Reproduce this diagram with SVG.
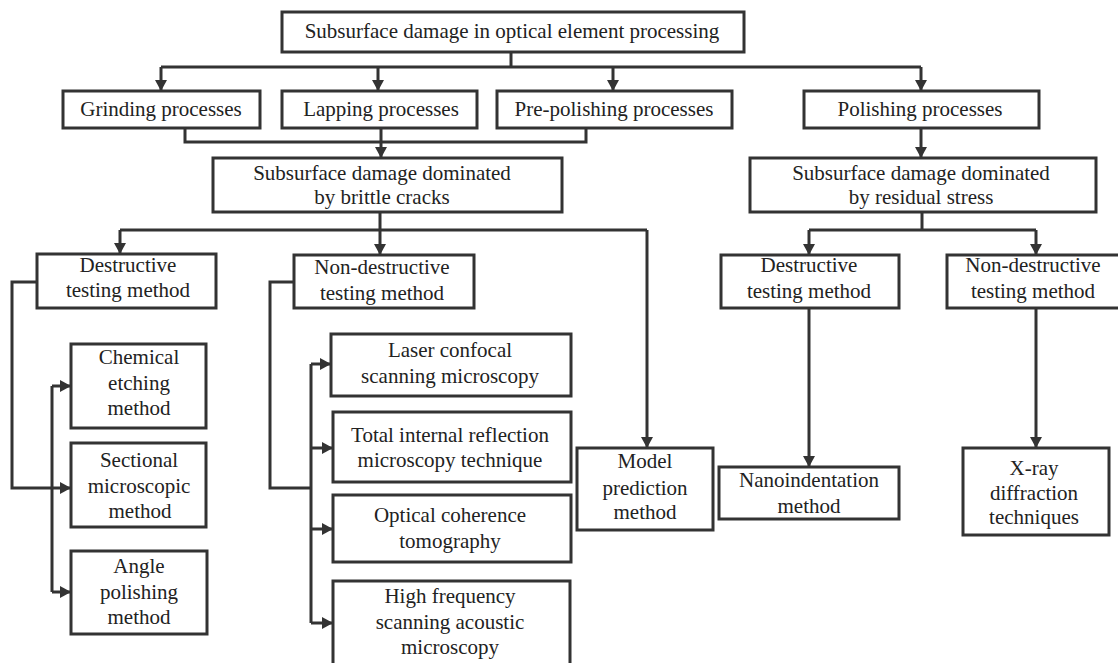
<svg xmlns="http://www.w3.org/2000/svg" width="1118" height="663" viewBox="0 0 1118 663">
<style>
.box{fill:#fff;stroke:#333;stroke-width:3}
.t{font-family:"Liberation Serif","Times New Roman",serif;font-size:21px;fill:#222;text-anchor:middle}
.c{fill:none;stroke:#333;stroke-width:3}
.a{fill:none;stroke:#333;stroke-width:3;marker-end:url(#ah)}
</style>
<defs>
<marker id="ah" markerUnits="userSpaceOnUse" markerWidth="14" markerHeight="14" viewBox="0 0 14 14" refX="12" refY="7" orient="auto">
<path d="M1,1 L12,7 L1,13 Z" fill="#333"/>
</marker>
</defs>
<rect width="1118" height="663" fill="#fff"/>
<g id="connectors">
<polyline class="c" points="511,52 511,67"/>
<polyline class="c" points="161,67 921,67"/>
<polyline class="a" points="161,67 161,91"/>
<polyline class="a" points="378,67 378,91"/>
<polyline class="a" points="613,67 613,91"/>
<polyline class="a" points="921,67 921,91"/>
<polyline class="c" points="185,128 185,142 586,142 586,128"/>
<polyline class="a" points="381,128 381,158"/>
<polyline class="a" points="921,128 921,158"/>
<polyline class="c" points="380,212 380,230"/>
<polyline class="c" points="120,230 647,230"/>
<polyline class="a" points="120,230 120,254"/>
<polyline class="a" points="380,230 380,255"/>
<polyline class="a" points="647,230 647,448"/>
<polyline class="c" points="922,212 922,230"/>
<polyline class="c" points="809,230 1036,230"/>
<polyline class="a" points="809,230 809,255"/>
<polyline class="a" points="1036,230 1036,255"/>
<polyline class="a" points="809,308 809,467"/>
<polyline class="a" points="1036,308 1036,448"/>
<polyline class="c" points="37,282 12,282 12,488 52,488"/>
<polyline class="c" points="52,386 52,592"/>
<polyline class="a" points="52,386 71,386"/>
<polyline class="a" points="52,488 71,488"/>
<polyline class="a" points="52,592 71,592"/>
<polyline class="c" points="294,282 270,282 270,488 311,488"/>
<polyline class="c" points="311,364 311,623"/>
<polyline class="a" points="311,364 331,364"/>
<polyline class="a" points="311,448 333,448"/>
<polyline class="a" points="311,529 333,529"/>
<polyline class="a" points="311,623 333,623"/>
</g>
<g id="n-root"><rect class="box" x="282" y="12" width="462" height="40"/><text class="t" x="512" y="38">Subsurface damage in optical element processing</text></g>
<g id="n-grinding"><rect class="box" x="63" y="91" width="197" height="37"/><text class="t" x="161" y="116">Grinding processes</text></g>
<g id="n-lapping"><rect class="box" x="282" y="91" width="195" height="37"/><text class="t" x="381" y="116">Lapping processes</text></g>
<g id="n-prepolishing"><rect class="box" x="497" y="91" width="235" height="37"/><text class="t" x="614" y="116">Pre-polishing processes</text></g>
<g id="n-polishing"><rect class="box" x="804" y="91" width="235" height="37"/><text class="t" x="920" y="116">Polishing processes</text></g>
<g id="n-brittle"><rect class="box" x="213" y="158" width="349" height="54"/><text class="t" x="382" y="180">Subsurface damage dominated</text><text class="t" x="382" y="204">by brittle cracks</text></g>
<g id="n-residual"><rect class="box" x="750" y="158" width="346" height="54"/><text class="t" x="921" y="180">Subsurface damage dominated</text><text class="t" x="921" y="204">by residual stress</text></g>
<g id="n-destr-l"><rect class="box" x="37" y="254" width="179" height="54"/><text class="t" x="128" y="272">Destructive</text><text class="t" x="128" y="297">testing method</text></g>
<g id="n-nondestr-m"><rect class="box" x="294" y="255" width="180" height="53"/><text class="t" x="382" y="274">Non-destructive</text><text class="t" x="382" y="300">testing method</text></g>
<g id="n-destr-r"><rect class="box" x="721" y="255" width="178" height="53"/><text class="t" x="809" y="272">Destructive</text><text class="t" x="809" y="298">testing method</text></g>
<g id="n-nondestr-r"><rect class="box" x="947" y="255" width="180" height="53"/><text class="t" x="1033" y="272">Non-destructive</text><text class="t" x="1033" y="298">testing method</text></g>
<g id="n-chemical"><rect class="box" x="71" y="344" width="135" height="84"/><text class="t" x="139" y="364">Chemical</text><text class="t" x="139" y="390">etching</text><text class="t" x="139" y="415">method</text></g>
<g id="n-sectional"><rect class="box" x="71" y="443" width="135" height="84"/><text class="t" x="139" y="467">Sectional</text><text class="t" x="139" y="493">microscopic</text><text class="t" x="140" y="518">method</text></g>
<g id="n-angle"><rect class="box" x="71" y="551" width="136" height="83"/><text class="t" x="139" y="573">Angle</text><text class="t" x="139" y="599">polishing</text><text class="t" x="139" y="624">method</text></g>
<g id="n-laser"><rect class="box" x="331" y="334" width="240" height="62"/><text class="t" x="450" y="357">Laser confocal</text><text class="t" x="450" y="383">scanning microscopy</text></g>
<g id="n-tir"><rect class="box" x="333" y="412" width="238" height="70"/><text class="t" x="450" y="442">Total internal reflection</text><text class="t" x="450" y="467">microscopy technique</text></g>
<g id="n-oct"><rect class="box" x="333" y="495" width="238" height="67"/><text class="t" x="450" y="522">Optical coherence</text><text class="t" x="450" y="548">tomography</text></g>
<g id="n-hfsam"><rect class="box" x="333" y="581" width="237" height="90"/><text class="t" x="450" y="603">High frequency</text><text class="t" x="450" y="629">scanning acoustic</text><text class="t" x="450" y="654">microscopy</text></g>
<g id="n-model"><rect class="box" x="577" y="448" width="136" height="82"/><text class="t" x="645" y="468">Model</text><text class="t" x="645" y="495">prediction</text><text class="t" x="645" y="519">method</text></g>
<g id="n-nano"><rect class="box" x="719" y="467" width="180" height="52"/><text class="t" x="809" y="487">Nanoindentation</text><text class="t" x="809" y="513">method</text></g>
<g id="n-xray"><rect class="box" x="963" y="448" width="146" height="87"/><text class="t" x="1034" y="475">X-ray</text><text class="t" x="1034" y="500">diffraction</text><text class="t" x="1034" y="524">techniques</text></g>
</svg>
